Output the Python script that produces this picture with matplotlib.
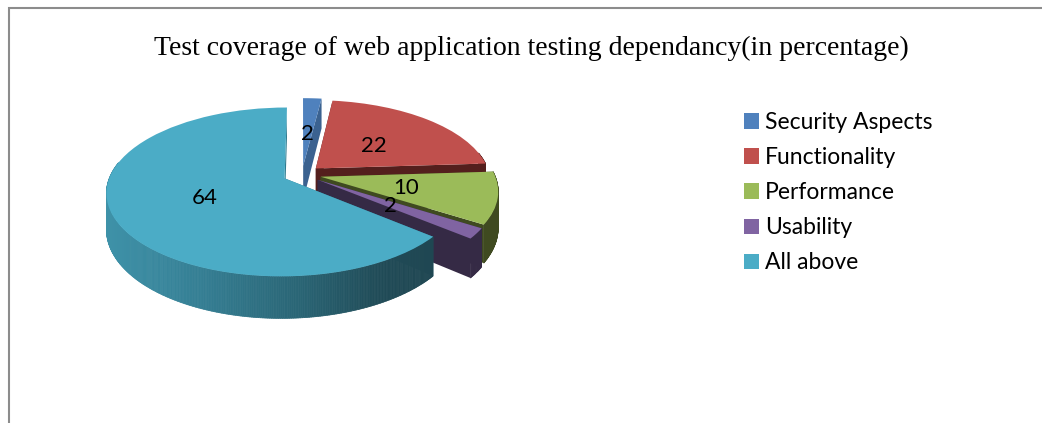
import numpy as np
import matplotlib
matplotlib.use("Agg")
import matplotlib.pyplot as plt
from matplotlib.transforms import Transform
from matplotlib.collections import PolyCollection
from matplotlib.colors import to_rgb

TITLE = "Test coverage of web application testing dependancy(in percentage)"
categories = ["Security Aspects", "Functionality", "Performance", "Usability", "All above"]
values = [2, 22, 10, 2, 64]
top_colors = ["#4F81BD", "#C0504D", "#9BBB59", "#8064A2", "#4BACC6"]
side_colors = ["#3B6290", "#541F1D", "#3F4A20", "#352A45", "#2E7A8E"]

W, H = 1042, 423
X0, Y0, A, B, K, DEPTH, EXPL = 302, 174.5, 81, 174, 0.16, 35, 0.11


def project(uv):
    uv = np.asarray(uv, float).reshape(-1, 2)
    s = 1 / (1 + K * uv[:, 1])
    return np.column_stack([X0 + B * uv[:, 0] * s, Y0 - A * uv[:, 1] * s])


class Perspective(Transform):
    input_dims = output_dims = 2
    is_separable = False

    def transform_non_affine(self, values):
        return project(values)


def lowered(uv):
    uv = np.asarray(uv, float).reshape(-1, 2)
    p = project(uv)
    p[:, 1] += DEPTH / (1 + K * uv[:, 1])
    return p


fig = plt.figure(figsize=(W / 100, H / 100), dpi=100)
ax = fig.add_axes([0, 0, 1, 1])
wedges, _ = ax.pie(values, colors=top_colors, startangle=90, counterclock=False,
                   explode=[EXPL] * len(values), radius=1)
ax.set_aspect("auto")
ax.set_xlim(0, W)
ax.set_ylim(H, 0)
ax.set_axis_off()

persp = Perspective() + ax.transData
teal_x = [100, 200, 300, 380, 470]
teal_rgb = np.array([to_rgb(c) for c in ["#3F93AA", "#357F94", "#2A6575", "#204B57", "#1F444F"]])

for i, w in enumerate(wedges):
    w.set_transform(persp)
    w.set_linewidth(0)
    w.set_zorder(10 * i + 3)
    c = np.array(w.center)
    t = np.radians(np.linspace(w.theta1, w.theta2, max(int((w.theta2 - w.theta1) * 2), 2) + 1))
    rim = c + np.column_stack([np.cos(t), np.sin(t)])
    top, low = project(rim), lowered(rim)
    for k in (0, -1):
        face = np.vstack([project(c), top[k], low[k], lowered(c)])
        ax.fill(face[:, 0], face[:, 1], color=side_colors[i], lw=0, zorder=10 * i + 1)
    keep = [j for j in range(len(t) - 1) if np.sin(t[j]) < 0.2]
    polys = [np.vstack([top[j], top[j + 1], low[j + 1], low[j]]) for j in keep]
    if not polys:
        continue
    if i == len(wedges) - 1:
        xm = np.array([p[:, 0].mean() for p in polys])
        cols = np.column_stack([np.interp(xm, teal_x, teal_rgb[:, n]) for n in range(3)])
    else:
        cols = [side_colors[i]] * len(polys)
    ax.add_collection(PolyCollection(polys, facecolors=cols, edgecolors=cols, linewidths=0.5,
                                     zorder=10 * i + 2))

label_font = ["Lato", "DejaVu Sans"]
for v, (x, y) in zip(values, [(307, 133.5), (374, 146.5), (406, 188.5), (390, 206.5), (205, 198.5)]):
    ax.text(x, y, str(v), ha="center", va="center", fontsize=16, family=label_font,
            color="black", zorder=100)

ax.text(531, 48.5, TITLE, ha="center", va="center", fontsize=20,
        family=["Liberation Serif"], color="black", zorder=100)

ax.legend(wedges, categories, loc="upper left", bbox_to_anchor=(744, 112),
          bbox_transform=ax.transData, frameon=False, borderpad=0, borderaxespad=0,
          prop={"family": label_font, "size": 16.5}, handlelength=0.66, handleheight=0.66,
          handletextpad=0.26, labelspacing=0.615)

ax.plot([9, 9, W], [H, 8, 8], color="#8C8C8C", lw=1.5, zorder=100, solid_joinstyle="miter")

fig.savefig("out.png", dpi=100, facecolor="white")
